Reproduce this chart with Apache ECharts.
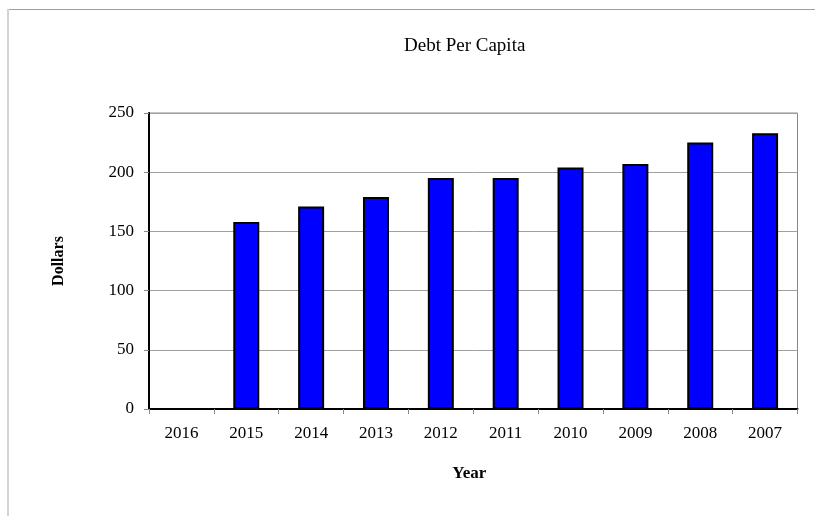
<!DOCTYPE html>
<html>
<head>
<meta charset="utf-8">
<script src="https://cdn.jsdelivr.net/npm/echarts@6/dist/echarts.min.js"></script>
<style>
html,body{margin:0;padding:0;background:#fff;}
#c{width:815px;height:516px;}
</style>
</head>
<body>
<div id="c"></div>
<script>
var categories = ['2016','2015','2014','2013','2012','2011','2010','2009','2008','2007'];
var debtPerCapita = [0, 158, 171, 179, 195, 195, 204, 207, 225, 233];
var yTicks = {min: 0, max: 250, interval: 50};

var FONT = "'Liberation Serif','Times New Roman',serif";
var chart = echarts.init(document.getElementById('c'));
chart.setOption({
  animation: false,
  backgroundColor: '#ffffff',
  title: {
    text: 'Debt Per Capita',
    left: 399,
    top: 32,
    textStyle: {fontFamily: FONT, fontSize: 19, fontWeight: 'normal', color: '#000'}
  },
  graphic: [
    {type: 'line', shape: {x1: 7, y1: 9.5, x2: 815, y2: 9.5}, style: {stroke: '#a0a0a0', lineWidth: 1}, silent: true},
    {type: 'line', shape: {x1: 8, y1: 9, x2: 8, y2: 516}, style: {stroke: '#d4d4d4', lineWidth: 2}, silent: true}
  ],
  grid: {
    left: 149, right: 17.5, top: 113, bottom: 107,
    show: true, borderColor: '#888888', borderWidth: 1, backgroundColor: 'transparent'
  },
  xAxis: {
    type: 'category',
    data: categories,
    boundaryGap: true,
    name: 'Year',
    nameLocation: 'middle',
    nameGap: 56,
    nameTextStyle: {fontFamily: FONT, fontSize: 17, fontWeight: 'bold', color: '#000', padding: [0, 8, 0, 0]},
    axisLine: {lineStyle: {color: '#000', width: 2}},
    axisTick: {show: true, alignWithLabel: false, length: 5, lineStyle: {color: '#888'}},
    axisLabel: {fontFamily: FONT, fontSize: 17, color: '#000', margin: 16, interval: 0},
    splitLine: {show: false}
  },
  yAxis: {
    type: 'value',
    min: yTicks.min, max: yTicks.max, interval: yTicks.interval,
    name: 'Dollars',
    nameLocation: 'middle',
    nameGap: 82,
    nameRotate: 90,
    nameTextStyle: {fontFamily: FONT, fontSize: 16, fontWeight: 'bold', color: '#000'},
    axisLine: {show: true, lineStyle: {color: '#000', width: 2}},
    axisTick: {show: true, length: 5, lineStyle: {color: '#888'}},
    axisLabel: {fontFamily: FONT, fontSize: 17, color: '#000', margin: 15},
    splitLine: {show: true, lineStyle: {color: '#a0a0a0', width: 1}}
  },
  series: [{
    type: 'bar',
    data: debtPerCapita,
    barWidth: 26,
    itemStyle: {color: '#0000ff', borderColor: '#000', borderWidth: 2}
  }]
});
</script>
</body>
</html>
